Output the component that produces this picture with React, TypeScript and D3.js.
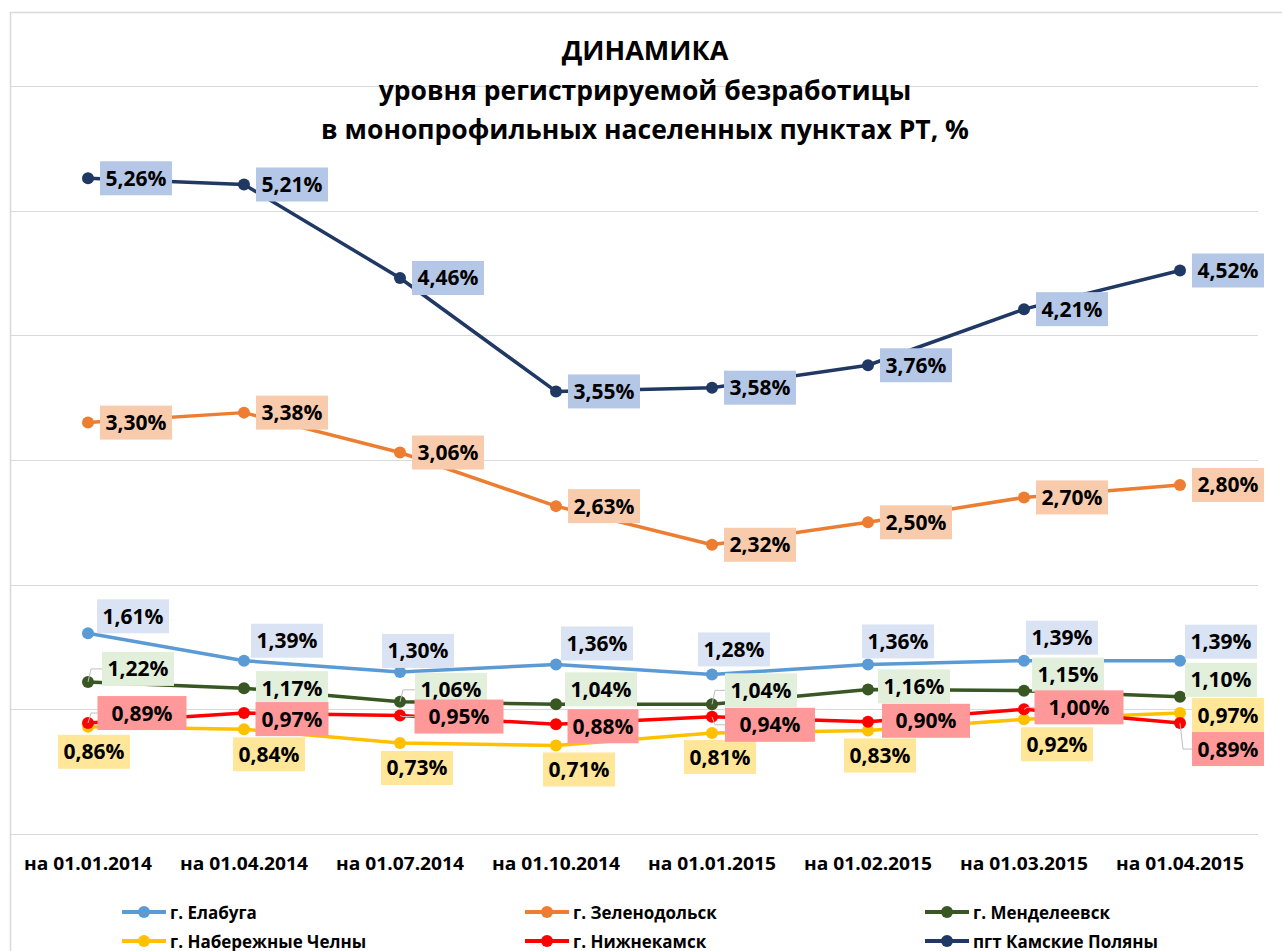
import React from "react";
import * as d3 from "d3";

// categories (x axis)
const dates = ["на 01.01.2014", "на 01.04.2014", "на 01.07.2014", "на 01.10.2014", "на 01.01.2015", "на 01.02.2015", "на 01.03.2015", "на 01.04.2015"];

// series values, %
const elabuga = [1.61, 1.39, 1.3, 1.36, 1.28, 1.36, 1.39, 1.39];
const zelenodolsk = [3.3, 3.38, 3.06, 2.63, 2.32, 2.5, 2.7, 2.8];
const mendeleevsk = [1.22, 1.17, 1.06, 1.04, 1.04, 1.16, 1.15, 1.1];
const chelny = [0.86, 0.84, 0.73, 0.71, 0.81, 0.83, 0.92, 0.97];
const nizhnekamsk = [0.89, 0.97, 0.95, 0.88, 0.94, 0.9, 1.0, 0.89];
const kamskie = [5.26, 5.21, 4.46, 3.55, 3.58, 3.76, 4.21, 4.52];

const yTicks = [0, 1, 2, 3, 4, 5, 6];

// label placement (center offset from point), box width, leader flag
type Lay = { off: number[][]; w: number[] | number; leader?: number[] };

const series = [
  { name: "г. Елабуга", values: elabuga, color: "#5B9BD5", box: "#DAE3F3",
    lay: { off: [[45, -17], [43, -20], [18, -21], [41, -21], [22, -25], [30, -23], [38, -23], [41, -19]], w: 72 } as Lay },
  { name: "г. Зеленодольск", values: zelenodolsk, color: "#ED7D31", box: "#F8CBAD",
    lay: { off: Array(8).fill([48, 0]), w: 72 } as Lay },
  { name: "г. Менделеевск", values: mendeleevsk, color: "#385723", box: "#E2EFDA",
    lay: { off: [[50, -13], [48, 0], [51, -12], [45, -15], [49, -14], [46, -3], [44, -16], [41, -17]], w: 72, leader: [0, 2, 4] } as Lay },
  { name: "г. Набережные Челны", values: chelny, color: "#FFC000", box: "#FFE699",
    lay: { off: [[6, 25], [25, 25], [17, 25], [23, 24], [8, 24], [12, 25], [33, 25], [48, 2]], w: 72 } as Lay },
  { name: "г. Нижнекамск", values: nizhnekamsk, color: "#FF0000", box: "#FF9999",
    lay: { off: [[54, -10], [48, 6], [59, 1], [47, 2], [58, 8], [58, -1], [55, -2], [48, 26]], w: [89, 73, 89, 71, 90, 88, 89, 72], leader: [0, 2, 4, 6, 7] } as Lay },
  { name: "пгт Камские Поляны", values: kamskie, color: "#203864", box: "#B4C7E7",
    lay: { off: Array(8).fill([48, 0]), w: 72 } as Lay },
];

const W = 1282, H = 951;
const fmt = (v: number) => v.toFixed(2).replace(".", ",") + "%";
const font = "'Open Sans', 'Noto Sans', sans-serif";

export default function App() {
  const x = d3.scaleBand<string>().domain(dates).range([10, 1258]);
  const y = d3.scaleLinear().domain([0, 6]).range([834, 86]);
  const cx = (i: number) => (x(dates[i]) as number) + x.bandwidth() / 2;

  const line = d3.line<number>().x((_, i) => cx(i)).y((d) => y(d));

  const boxH = 34;

  return (
    <svg width={W} height={H} style={{ position: "absolute", left: 0, top: 0, background: "#fff" }}>
      {/* chart border */}
      <path d={`M10.5,${H} L10.5,12.5 L${W},12.5`} fill="none" stroke="#D9D9D9" strokeWidth={1.5} />

      {/* gridlines */}
      {yTicks.map((t) => (
        <line key={t} x1={10} x2={1258} y1={Math.round(y(t)) + 0.5} y2={Math.round(y(t)) + 0.5} stroke="#D9D9D9" strokeWidth={1} />
      ))}

      {/* title */}
      <g fontFamily={font} fontWeight={700} fill="#000" textAnchor="middle">
        <text x={645} y={60} fontSize={27}>ДИНАМИКА</text>
        <text x={645} y={100} fontSize={26.5}>уровня регистрируемой безработицы</text>
        <text x={645} y={139} fontSize={26.5}>в монопрофильных населенных пунктах РТ, %</text>
      </g>

      {/* lines */}
      {series.map((s) => (
        <g key={s.name}>
          <path d={line(s.values) as string} fill="none" stroke={s.color} strokeWidth={3.5} strokeLinejoin="round" />
          {s.values.map((v, i) => (
            <circle key={i} cx={cx(i)} cy={y(v)} r={6} fill={s.color} />
          ))}
        </g>
      ))}

      {/* data labels */}
      {series.map((s) => (
        <g key={s.name + "-lab"}>
          {s.values.map((v, i) => {
            const [dx, dy] = s.lay.off[i];
            const w = Array.isArray(s.lay.w) ? s.lay.w[i] : s.lay.w;
            const px = cx(i), py = y(v);
            const lx = px + dx, ly = py + dy;
            const hasLeader = s.lay.leader && s.lay.leader.includes(i);
            return (
              <g key={i}>
                {hasLeader && (
                  <path d={`M${px},${py} L${px + 3},${ly} L${lx - w / 2},${ly}`} fill="none" stroke="#BFBFBF" strokeWidth={1} />
                )}
                <rect x={lx - w / 2} y={ly - boxH / 2} width={w} height={boxH} fill={s.box} />
                <text x={lx} y={ly + 7.5} textAnchor="middle" fontFamily={font} fontWeight={700} fontSize={21} fill="#000">
                  {fmt(v)}
                </text>
              </g>
            );
          })}
        </g>
      ))}

      {/* x axis labels */}
      {dates.map((d, i) => (
        <text key={d} x={cx(i)} y={870} textAnchor="middle" fontFamily={font} fontWeight={700} fontSize={17.5}
          textLength={128} lengthAdjust="spacingAndGlyphs" fill="#000">
          {d}
        </text>
      ))}

      {/* legend */}
      {series.map((s, i) => {
        const col = i % 3, row = Math.floor(i / 3);
        const lx = [122, 525, 925][col];
        const ly = [912, 941][row];
        return (
          <g key={s.name + "-leg"}>
            <line x1={lx} x2={lx + 44} y1={ly} y2={ly} stroke={s.color} strokeWidth={4} />
            <circle cx={lx + 22} cy={ly} r={6} fill={s.color} />
            <text x={lx + 48} y={ly + 6.5} fontFamily={font} fontWeight={700} fontSize={17} fill="#000">{s.name}</text>
          </g>
        );
      })}
    </svg>
  );
}
